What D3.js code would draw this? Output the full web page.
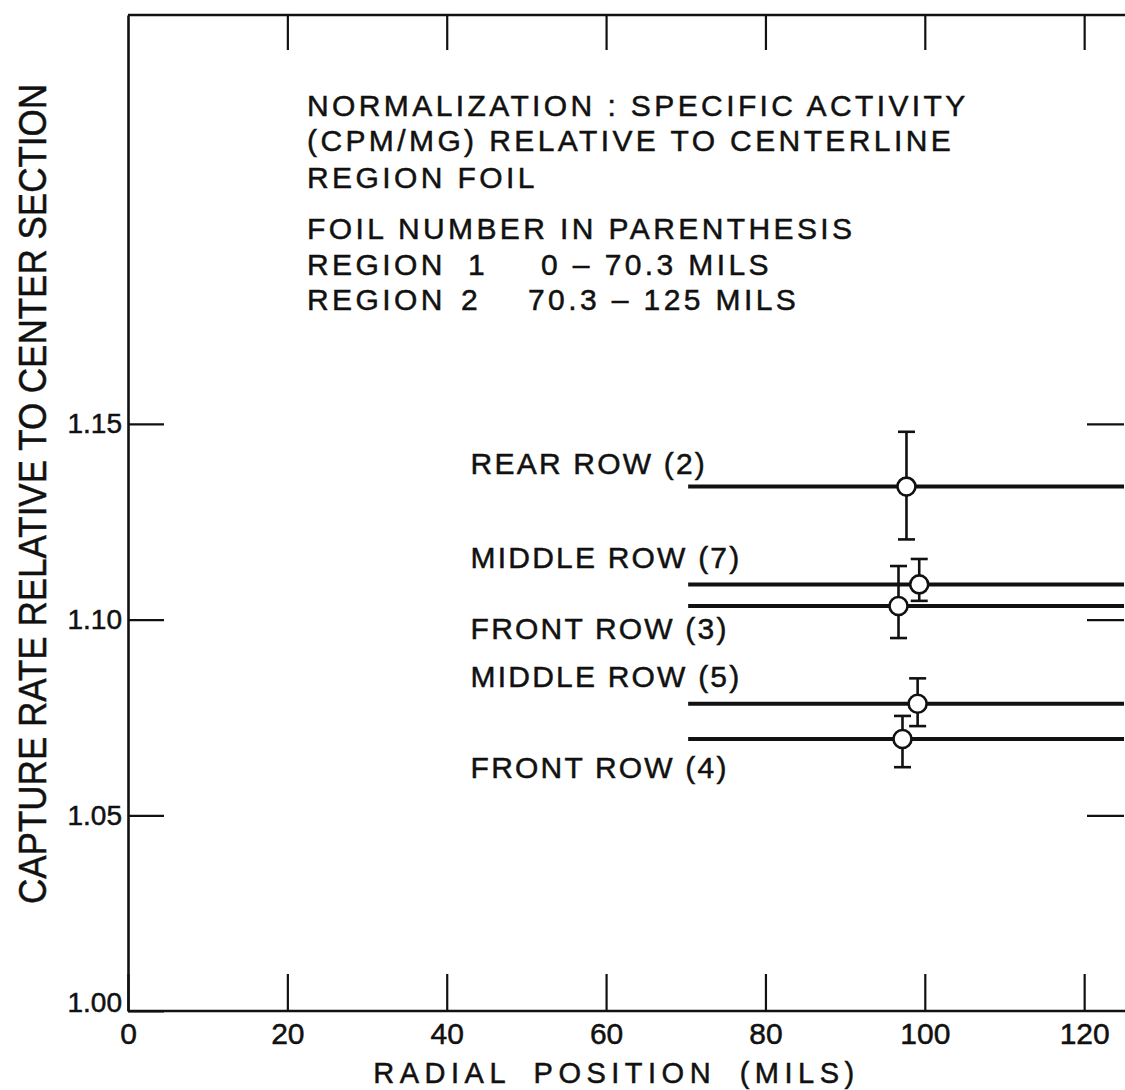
<!DOCTYPE html>
<html lang="en">
<head>
<meta charset="utf-8">
<title>Capture rate vs radial position</title>
<script src="https://d3js.org/d3.v7.min.js"></script>
<style>
  body { margin: 0; background: #fff; }
  svg { display: block; }
  text { font-family: "Liberation Sans", Arial, sans-serif; fill: #111; stroke: #111; stroke-width: 0.5; }
</style>
</head>
<body>
<script>
// Data
var rowNames   = ["REAR ROW (2)", "MIDDLE ROW (7)", "FRONT ROW (3)", "MIDDLE ROW (5)", "FRONT ROW (4)"];
var foilRadius = [97.7, 99.3, 96.7, 99.1, 97.2];          // mils
var captureRate = [1.134, 1.109, 1.1035, 1.0785, 1.0695];
var errLow     = [1.1205, 1.1048, 1.0953, 1.0728, 1.0623];
var errHigh    = [1.148, 1.1155, 1.1137, 1.085, 1.0754];
var region2    = [70.3, 125];                               // region 2 span (mils)

var xTicks = [0, 20, 40, 60, 80, 100, 120];
var yTicks = [1.00, 1.05, 1.10, 1.15];

var notes = [
  "NORMALIZATION : SPECIFIC ACTIVITY",
  "(CPM/MG) RELATIVE TO CENTERLINE",
  "REGION FOIL",
  "FOIL NUMBER IN PARENTHESIS"
];

var width = 1125, height = 1090;

var svg = d3.select("body").append("svg")
  .attr("width", width)
  .attr("height", height);

var x = d3.scaleLinear().domain([0, 125]).range([128, 1124]);
var y = d3.scaleLinear().domain([1.00, 1.2545]).range([1011, 15]);

// bottom axis, ticks point inward
var gx = svg.append("g")
  .attr("transform", "translate(0," + y(1.00) + ")")
  .call(d3.axisBottom(x).tickValues(xTicks)
    .tickSizeInner(-37).tickSizeOuter(0).tickPadding(12)
    .tickFormat(d3.format("d")));
gx.select(".domain").attr("d", "M128,0H1125");
gx.selectAll("text").attr("font-size", 30).style("font-family", "Liberation Sans, Arial, sans-serif");

// top border with ticks
var gt = svg.append("g")
  .attr("transform", "translate(0," + y.range()[1] + ")")
  .call(d3.axisTop(x).tickValues(xTicks.slice(1))
    .tickSizeInner(-35).tickSizeOuter(0).tickFormat(""));
gt.select(".domain").attr("d", "M128,0H1125");

// left axis
var gy = svg.append("g")
  .attr("transform", "translate(" + x(0) + ",0)")
  .call(d3.axisLeft(y).tickValues(yTicks)
    .tickSizeInner(-36).tickSizeOuter(0).tickPadding(6)
    .tickFormat(d3.format(".2f")));
gy.selectAll("text").attr("font-size", 28).style("font-family", "Liberation Sans, Arial, sans-serif");
gy.selectAll(".tick").filter(function(d) { return d === 1.00; })
  .select("text").attr("dy", "0.0em");

// right side ticks (border itself is off the page edge)
var gr = svg.append("g")
  .attr("transform", "translate(" + x(125) + ",0)")
  .call(d3.axisRight(y).tickValues(yTicks.slice(1))
    .tickSizeInner(-37).tickSizeOuter(0).tickFormat(""));
gr.select(".domain").remove();

svg.selectAll(".domain").attr("stroke", "#111").attr("stroke-width", 2.6);
svg.selectAll(".tick line").attr("stroke", "#111").attr("stroke-width", 2.2);
svg.selectAll(".tick text").attr("fill", "#111").attr("stroke", "#111").attr("stroke-width", 0.5);

// axis titles
svg.append("text")
  .attr("x", (373 + 860) / 2)
  .attr("y", 1083)
  .attr("text-anchor", "middle")
  .attr("font-size", 29)
  .attr("letter-spacing", 5.5)
  .attr("word-spacing", 10)
  .text("RADIAL POSITION (MILS)");

svg.append("text")
  .attr("transform", "translate(46," + 494 + ") rotate(-90)")
  .attr("text-anchor", "middle")
  .attr("font-size", 38)
  .attr("textLength", 820)
  .attr("lengthAdjust", "spacingAndGlyphs")
  .text("CAPTURE RATE RELATIVE TO CENTER SECTION");

// notes block
var noteBase = [116, 151, 188, 239];
svg.selectAll("text.note")
  .data(notes)
  .enter().append("text")
  .attr("class", "note")
  .attr("x", 307)
  .attr("y", function(d, i) { return noteBase[i]; })
  .attr("font-size", 30)
  .attr("letter-spacing", 3.4)
  .text(function(d) { return d; });

var regionLines = [
  { y: 275, parts: [["REGION", 307], ["1", 468], ["0 \u2013 70.3 MILS", 541]] },
  { y: 310, parts: [["REGION", 307], ["2", 461], ["70.3 \u2013 125 MILS", 528]] }
];
regionLines.forEach(function(r) {
  var t = svg.append("text").attr("y", r.y).attr("font-size", 30).attr("letter-spacing", 3.4);
  r.parts.forEach(function(p) {
    t.append("tspan").attr("x", p[1]).text(p[0]);
  });
});

// data
var rows = rowNames.map(function(name, i) {
  return { name: name, r: foilRadius[i], v: captureRate[i], lo: errLow[i], hi: errHigh[i] };
});

var plot = svg.append("g");

plot.selectAll("line.region")
  .data(rows)
  .enter().append("line")
  .attr("class", "region")
  .attr("x1", x(region2[0]))
  .attr("x2", x(region2[1]))
  .attr("y1", function(d) { return y(d.v); })
  .attr("y2", function(d) { return y(d.v); })
  .attr("stroke", "#111")
  .attr("stroke-width", 4);

var cap = 8.5;
var eb = plot.selectAll("g.err")
  .data(rows)
  .enter().append("g")
  .attr("class", "err")
  .attr("stroke", "#111")
  .attr("stroke-width", 2.6);
eb.append("line")
  .attr("x1", function(d) { return x(d.r); })
  .attr("x2", function(d) { return x(d.r); })
  .attr("y1", function(d) { return y(d.lo); })
  .attr("y2", function(d) { return y(d.hi); });
eb.append("line")
  .attr("x1", function(d) { return x(d.r) - cap; })
  .attr("x2", function(d) { return x(d.r) + cap; })
  .attr("y1", function(d) { return y(d.hi); })
  .attr("y2", function(d) { return y(d.hi); });
eb.append("line")
  .attr("x1", function(d) { return x(d.r) - cap; })
  .attr("x2", function(d) { return x(d.r) + cap; })
  .attr("y1", function(d) { return y(d.lo); })
  .attr("y2", function(d) { return y(d.lo); });

plot.selectAll("circle")
  .data(rows)
  .enter().append("circle")
  .attr("cx", function(d) { return x(d.r); })
  .attr("cy", function(d) { return y(d.v); })
  .attr("r", 9)
  .attr("fill", "#fff")
  .attr("stroke", "#111")
  .attr("stroke-width", 2.6);

// row labels: above or below their line
var labelDy = [-13, -16, 33, -17, 39];
plot.selectAll("text.row")
  .data(rows)
  .enter().append("text")
  .attr("class", "row")
  .attr("x", x(43))
  .attr("y", function(d, i) { return y(d.v) + labelDy[i]; })
  .attr("font-size", 30)
  .attr("letter-spacing", 2.2)
  .text(function(d) { return d.name; });
</script>
</body>
</html>
